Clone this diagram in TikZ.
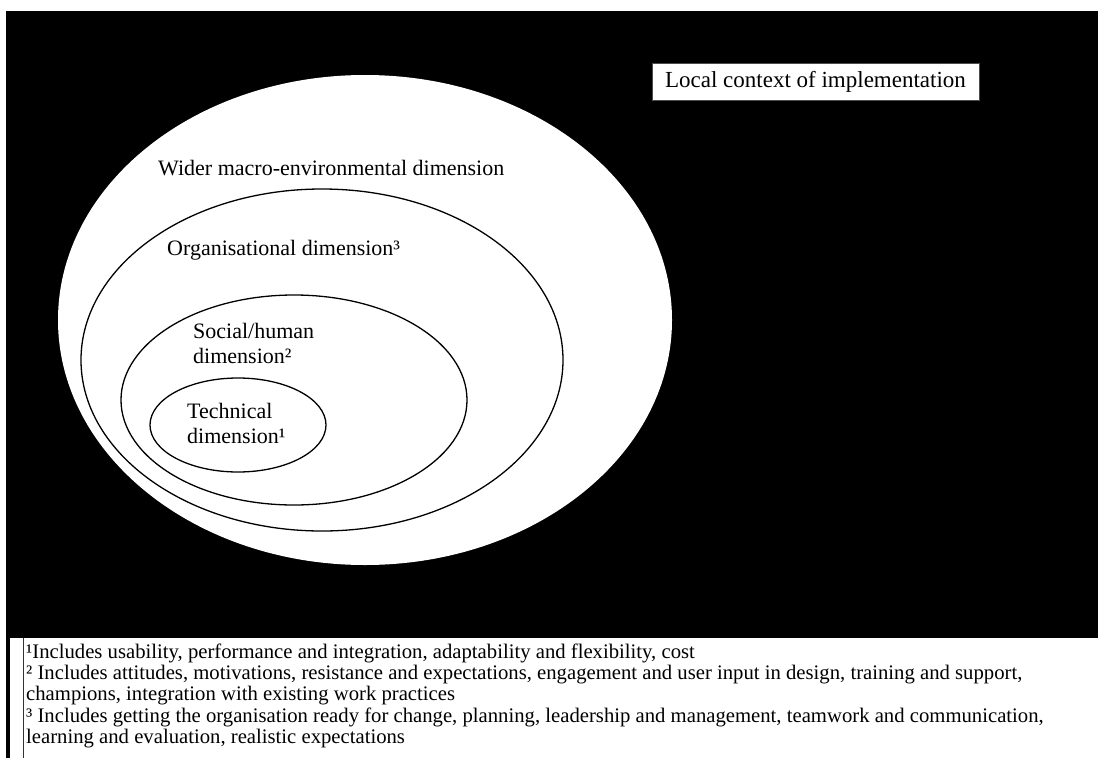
\documentclass[tikz,border=0pt]{standalone}
\usepackage{fontspec}
\setmainfont{Liberation Serif}
\usetikzlibrary{shapes.geometric}
\begin{document}
\begin{tikzpicture}[x=1pt,y=-1pt,
  ring/.style={ellipse, draw=black, line width=1.3pt, fill=white, inner sep=0pt},
  lbl/.style={font=\fontsize{22}{25}\selectfont, inner sep=0pt, anchor=west, align=left},
  fn/.style={font=\fontsize{20.7}{22}\selectfont, inner sep=0pt, anchor=base west}]
\useasboundingbox (0,0) rectangle (1098,758);
\fill[white] (0,0) rectangle (1098,758);
% local context (black field)
\fill[black] (6,11) rectangle (1098,638);
\fill[black] (6,638) rectangle (10,758);
\node[fill=white, draw=black!70, line width=0.6pt, minimum width=327pt, minimum height=37pt, inner sep=0pt,
      font=\fontsize{23}{26}\selectfont] (ctx) at (815.5,81.5) {Local context of implementation};
% dimensions
\node[ring, draw=none, minimum width=614pt, minimum height=490pt] (macro) at (365,320) {};
\node[ring, minimum width=482pt, minimum height=342pt] (org) at (322,360) {};
\node[ring, minimum width=346pt, minimum height=210pt] (soc) at (294,400) {};
\node[ring, minimum width=176pt, minimum height=94pt] (tech) at (238,425) {};
\node[lbl] (macrolbl) at (158,168) {Wider macro-environmental dimension};
\node[lbl] (orglbl) at (167,250) {Organisational dimension³};
\node[lbl] (soclbl) at (193,343) {Social/human\\dimension²};
\node[lbl] (techlbl) at (187,423) {Technical\\dimension¹};
% footnotes
\draw[line width=0.6pt, black!80] (23,638) -- (23,758);
\node[fn] (f1) at (26,658) {¹Includes usability, performance and integration, adaptability and flexibility, cost};
\node[fn] (f2) at (26,679.3) {² Includes attitudes, motivations, resistance and expectations, engagement and user input in design, training and support,};
\node[fn] (f3) at (26,700.6) {champions, integration with existing work practices};
\node[fn] (f4) at (26,722) {³ Includes getting the organisation ready for change, planning, leadership and management, teamwork and communication,};
\node[fn] (f5) at (26,743.3) {learning and evaluation, realistic expectations};
\end{tikzpicture}
\end{document}
